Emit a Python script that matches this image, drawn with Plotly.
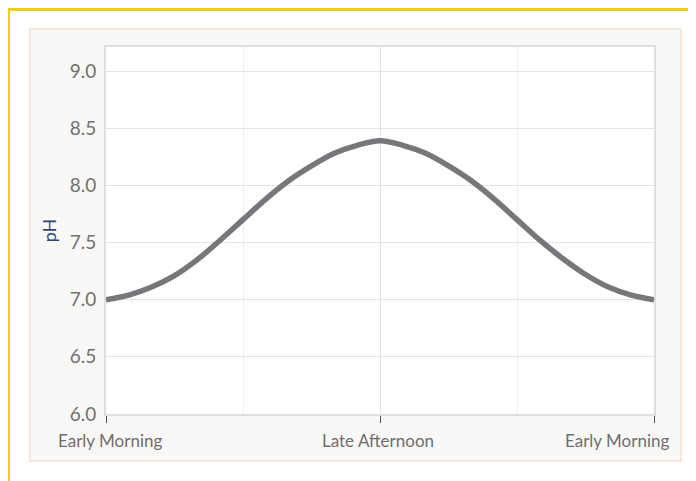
import plotly.graph_objects as go

hours = list(range(25))
ph_values = [7.00, 7.04, 7.11, 7.21, 7.35, 7.52, 7.70, 7.88, 8.04, 8.17, 8.28, 8.35, 8.39,
             8.35, 8.28, 8.17, 8.04, 7.88, 7.70, 7.52, 7.36, 7.22, 7.11, 7.04, 7.00]
tick_hours = [0, 12, 24]
tick_labels = ["Early Morning", "Late Afternoon", "Early Morning"]
y_ticks = [6.0, 6.5, 7.0, 7.5, 8.0, 8.5, 9.0]

# page body has an 8px margin; work in window pixels
OFF = 8
W, H = 696 - OFF, 481 - OFF
PL, PR, PT, PB = 106, 654, 47, 414  # plot area in window pixels
L, T = PL - OFF, PT - OFF
R, B = W - (PR - OFF), H - (PB - OFF)
pw, ph = PR - PL, PB - PT


def px_x(v):
    return (v - PL) / pw


def px_y(v):
    return (PB - v) / ph


fig = go.Figure()
fig.add_trace(go.Scatter(
    x=hours, y=ph_values, mode="lines",
    line=dict(color="#77777b", width=5.5, shape="spline", smoothing=1.0),
    hoverinfo="skip", showlegend=False,
))

font_family = "Lato, 'Open Sans', sans-serif"
label_font = dict(family=font_family, size=17, color="#6e6e6e")
anchors = ["center", "center", "right"]
shifts = [4, -2, 17]
annotations = []
for hv, txt, anc, sh in zip(tick_hours, tick_labels, anchors, shifts):
    annotations.append(dict(
        x=hv, y=0, xref="x", yref="paper", text=txt, showarrow=False,
        xanchor=anc, yanchor="middle", xshift=sh, yshift=-26, font=label_font,
    ))

shapes = [
    dict(type="rect", xref="paper", yref="paper",
         x0=px_x(30), x1=px_x(681), y0=px_y(461), y1=px_y(29),
         fillcolor="#faf8f6", line=dict(color="#f4e7dc", width=2), layer="below"),
    dict(type="rect", xref="paper", yref="paper",
         x0=0, x1=1, y0=0, y1=1,
         fillcolor="white", line=dict(width=0), layer="below"),
    dict(type="rect", xref="paper", yref="paper",
         x0=px_x(8.5), x1=px_x(740), y0=px_y(520), y1=px_y(9.5),
         fillcolor="rgba(0,0,0,0)", line=dict(color="#f5cf06", width=3), layer="above"),
]

fig.update_layout(
    width=W, height=H,
    margin=dict(l=L, r=R, t=T, b=B, pad=0),
    paper_bgcolor="white", plot_bgcolor="white",
    showlegend=False,
    shapes=shapes,
    annotations=annotations,
    font=dict(family=font_family),
)
fig.update_xaxes(
    range=[0, 24], tickvals=tick_hours, ticktext=tick_labels, showticklabels=False,
    ticks="outside", ticklen=7, tickwidth=1, tickcolor="#555555",
    showgrid=True, gridcolor="#e4e4e4", gridwidth=1,
    minor=dict(dtick=6, tick0=0, showgrid=True, gridcolor="#f0f0f0", gridwidth=1, ticks=""),
    showline=True, linecolor="#dedede", linewidth=2, mirror=True, zeroline=False,
)
fig.update_yaxes(
    range=[6.0, 9.21], tickvals=y_ticks, tickformat=".1f",
    ticks="", tickfont=dict(family=font_family, size=19, color="#707070"),
    showgrid=True, gridcolor="#e4e4e4", gridwidth=1,
    showline=True, linecolor="#dedede", linewidth=2, mirror=True, zeroline=False,
    ticklabelstandoff=4,
    title=dict(text="pH", font=dict(family=font_family, size=18, color="#2c4677"), standoff=8),
)

fig.write_html("out.html")
